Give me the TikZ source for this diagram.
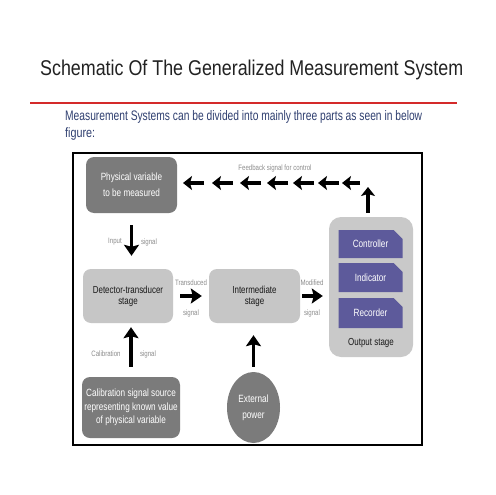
\documentclass[tikz,border=0pt]{standalone}
\usepackage{fontspec}
\setmainfont{Liberation Sans}
\newfontfamily\dfont[FakeStretch=0.78]{Liberation Sans}
\newfontfamily\tfont[FakeStretch=0.8]{Liberation Sans}
\usetikzlibrary{arrows.meta,shapes.misc,shapes.geometric}
\definecolor{titlecol}{HTML}{222222}
\definecolor{subcol}{HTML}{2F3F70}
\definecolor{redln}{HTML}{D42A2A}
\definecolor{darkfill}{HTML}{7B7B7B}
\definecolor{lightfill}{HTML}{C6C6C6}
\definecolor{outfill}{HTML}{C9C9C9}
\definecolor{purp}{HTML}{5D5A9B}
\definecolor{lblgray}{HTML}{8C8C8C}
\tikzset{
  darkbox/.style={fill=darkfill, draw=none, rounded corners=8pt, text=white, align=center, inner sep=0pt, font=\dfont\fontsize{10.5}{16}\selectfont},
  lightbox/.style={fill=lightfill, draw=none, rounded corners=8pt, text=black!90, align=center, inner sep=0pt, minimum height=54pt, font=\dfont\fontsize{10.2}{11}\selectfont},
  purpbox/.style={fill=purp, draw=none, chamfered rectangle, chamfered rectangle corners=north east, chamfered rectangle xsep=5pt, chamfered rectangle ysep=5pt, inner sep=0pt, minimum width=64pt, text=white, font=\dfont\fontsize{10.5}{12}\selectfont},
  lbl/.style={inner sep=0pt, text=lblgray, font=\dfont\fontsize{7.8}{9}\selectfont},
  bigarrow/.style={line width=3.7pt, -{Stealth[length=11pt,width=15pt,inset=2pt]}},
  fbarrow/.style={line width=3.4pt, -{Stealth[length=9pt,width=14pt,inset=2pt]}}
}
\begin{document}
\begin{tikzpicture}[x=1pt,y=-1pt]
\useasboundingbox[fill=white] (0,0) rectangle (495,495);
% title and intro
\node[anchor=base west, inner sep=0pt, text=titlecol] (title) at (40,75) {\resizebox{423pt}{15.5pt}{\tfont Schematic Of The Generalized Measurement System}};
\draw[redln, line width=2.5pt] (30,103) -- (457,103);
\node[anchor=base west, inner sep=0pt, text=subcol] (sub1) at (65,120) {\resizebox{357pt}{10pt}{\tfont Measurement Systems can be divided into mainly three parts as seen in below}};
\node[anchor=base west, inner sep=0pt, text=subcol, font=\tfont\fontsize{13.5}{14}\selectfont] (sub2) at (65,137) {figure:};
% frame
\draw[line width=2.8pt] (73,153) rectangle (422,445);
% blocks
\node[darkbox, minimum width=91pt, minimum height=56pt] (phys) at (131.5,185) {Physical variable\\to be measured};
\node[lightbox, minimum width=90pt] (det) at (128,296) {Detector-transducer\\stage};
\node[lightbox, minimum width=91pt] (inter) at (254.5,296) {Intermediate\\stage};
\node[fill=outfill, rounded corners=12pt, minimum width=84pt, minimum height=140pt, inner sep=0pt] (out) at (371,287) {};
\node[purpbox, minimum height=28pt] (ctrl) at (370.5,244) {Controller};
\node[purpbox, minimum height=29pt] (ind) at (370.5,277.5) {Indicator};
\node[purpbox, minimum height=30pt] (rec) at (370.5,313) {Recorder};
\node[inner sep=0pt, text=black!90, font=\dfont\fontsize{10.2}{12}\selectfont] (outlbl) at (371,343) {Output stage};
\node[darkbox, minimum width=98pt, minimum height=61pt, font=\dfont\fontsize{10.5}{13.5}\selectfont] (cal) at (131,407.5) {Calibration signal source\\representing known value\\of physical variable};
\node[ellipse, fill=darkfill, text=white, align=center, inner sep=0pt, minimum width=53pt, minimum height=71pt, font=\dfont\fontsize{10.5}{16}\selectfont] (ext) at (253.5,407.5) {External\\power};
% arrows
\draw[bigarrow, shorten <=12pt, shorten >=13pt] (phys.south) -- (phys.south |- det.north);
\draw[bigarrow, shorten <=7pt, shorten >=7pt] (det.east) -- (inter.west);
\draw[bigarrow, shorten <=2pt, shorten >=6pt] (inter.east) -- (inter.east -| out.west);
\draw[bigarrow, shorten <=10pt, shorten >=4pt] (cal.north) -- (cal.north |- det.south);
\draw[bigarrow, shorten <=5pt, shorten >=12pt] (ext.north) -- (ext.north |- inter.south);
% feedback
\coordinate (fbcorner) at (368,183);
\draw[fbarrow, shorten <=4pt, shorten >=4pt] ([xshift=-3pt]out.north) -- (fbcorner);
\foreach \t/\l in {183/21,212/21,240/21,267/21,293/21,318/21,342/18}{
  \coordinate (fa\t) at (\t+\l,183);
  \coordinate (fb\t) at (\t,183);
  \draw[fbarrow] (fa\t) -- (fb\t);
}
% labels
\node[lbl] (fblbl) at (275,168) {Feedback signal for control};
\node[lbl] (inlbl) at (115,242) {Input};
\node[lbl] (insig) at (149,242) {signal};
\node[lbl] (trlbl) at (191,283) {Transduced};
\node[lbl] (trsig) at (191,313) {signal};
\node[lbl] (mdlbl) at (312,283) {Modified};
\node[lbl] (mdsig) at (312,313) {signal};
\node[lbl] (cllbl) at (106,354) {Calibration};
\node[lbl] (clsig) at (148,354) {signal};
\end{tikzpicture}
\end{document}
